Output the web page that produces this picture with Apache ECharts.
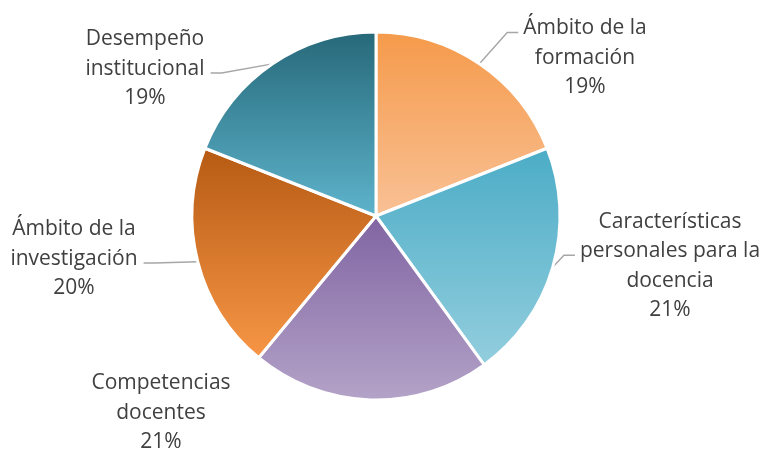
<!DOCTYPE html>
<html>
<head>
<meta charset="utf-8">
<script src="https://cdn.jsdelivr.net/npm/echarts@6/dist/echarts.min.js"></script>
<style>
  html, body { margin: 0; padding: 0; background: #fff; }
  #chart { width: 762px; height: 450px; }
</style>
</head>
<body>
<div id="chart"></div>
<script>
// Categories and shares (percent)
const categories = [
  'Ámbito de la\nformación',
  'Características\npersonales para la\ndocencia',
  'Competencias\ndocentes',
  'Ámbito de la\ninvestigación',
  'Desempeño\ninstitucional'
];
const shares = [19, 21, 21, 20, 19];

// Vertical gradient per slice: [top colour, bottom colour]
const sliceGradients = [
  ['#F59A4A', '#F9C196'],
  ['#4BACC6', '#93CEDE'],
  ['#8064A2', '#B4A3C8'],
  ['#B65A13', '#F79646'],
  ['#266879', '#5EB4CC']
];

// Label block centres
const labelCentres = [
  [585, 58],
  [670, 266],
  [161, 413],
  [74, 259],
  [145, 69]
];
// Which text row the leader line meets (-1: no leader line)
const leaderRow = [0, 1, -1, 1, 1];

const CX = 376, CY = 216, R = 184;
const FONT_SIZE = 21, LINE_H = 29.5, FONT = 'Open Sans';

const measureCtx = document.createElement('canvas').getContext('2d');
measureCtx.font = FONT_SIZE + 'px "' + FONT + '"';

const total = shares.reduce((a, b) => a + b, 0);
// Mid angle of each slice, in degrees clockwise from 12 o'clock
const midAngles = [];
let acc = 0;
shares.forEach(v => {
  midAngles.push((acc + v / 2) / total * 360);
  acc += v;
});

const chart = echarts.init(document.getElementById('chart'), null, { renderer: 'canvas' });

const data = categories.map((name, i) => ({
  name: name,
  value: shares[i],
  itemStyle: {
    color: new echarts.graphic.LinearGradient(0, 0, 0, 1, [
      { offset: 0, color: sliceGradients[i][0] },
      { offset: 1, color: sliceGradients[i][1] }
    ])
  },
  labelLine: { show: leaderRow[i] >= 0 }
}));

chart.setOption({
  animation: false,
  backgroundColor: '#ffffff',
  series: [{
    type: 'pie',
    center: [CX, CY],
    radius: R,
    startAngle: 90,
    clockwise: true,
    data: data,
    itemStyle: { borderColor: '#ffffff', borderWidth: 3 },
    label: {
      show: true,
      position: 'outside',
      formatter: '{b}\n{c}%',
      fontFamily: FONT,
      fontSize: FONT_SIZE,
      lineHeight: LINE_H,
      color: '#404040',
      align: 'center',
      overflow: 'none'
    },
    labelLine: {
      show: true,
      length: 15,
      length2: 10,
      lineStyle: { color: '#A6A6A6', width: 1.4 }
    },
    labelLayout: function (params) {
      const i = params.dataIndex;
      const c = labelCentres[i];
      const out = { x: c[0], y: c[1], align: 'center', verticalAlign: 'middle' };
      const row = leaderRow[i];
      if (row >= 0) {
        const lines = (categories[i] + '\n' + shares[i] + '%').split('\n');
        const blockH = lines.length * LINE_H;
        const rowY = c[1] - blockH / 2 + LINE_H * (row + 0.5) + 4;
        const rowW = measureCtx.measureText(lines[row]).width;
        const a = midAngles[i] * Math.PI / 180;
        const sx = CX + R * Math.sin(a);
        const sy = CY - R * Math.cos(a);
        const right = Math.sin(a) > 0;
        const ex = right ? c[0] - rowW / 2 - 5 : c[0] + rowW / 2 + 6;
        const kx = right ? ex - 11 : ex + 11;
        out.labelLinePoints = [[sx, sy], [kx, rowY], [ex, rowY]];
      }
      return out;
    }
  }]
});
</script>
</body>
</html>
